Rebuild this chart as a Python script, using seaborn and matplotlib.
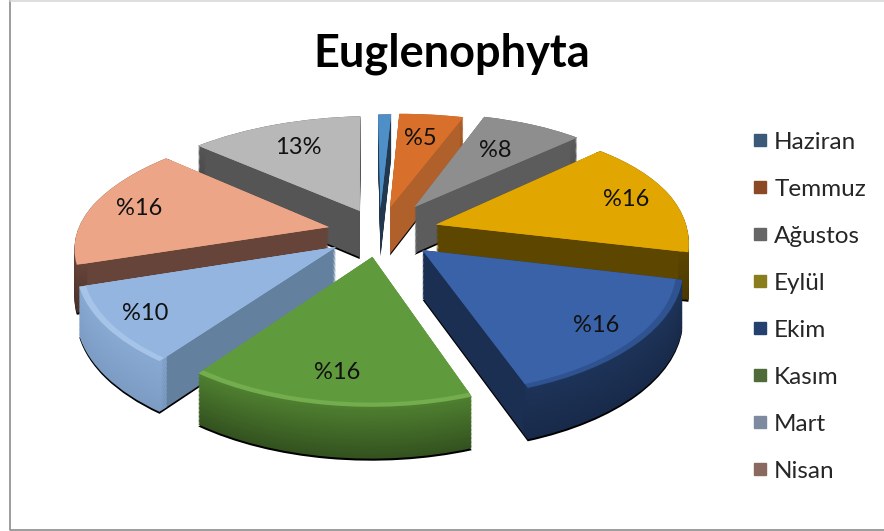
import numpy as np
import matplotlib
matplotlib.use("Agg")
import matplotlib.pyplot as plt
from matplotlib.colors import to_rgb
from matplotlib.lines import Line2D
from matplotlib.transforms import Transform
import seaborn as sns

# ---- data ----
months = ["Haziran", "Temmuz", "Ağustos", "Eylül", "Ekim", "Kasım", "Mart", "Nisan"]
values = [1, 5, 8, 16, 16, 16, 10, 16, 13]
value_labels = ["", "%5", "%8", "%16", "%16", "%16", "%10", "%16", "13%"]

# ---- style ----
top_colors = ["#4f8fc8", "#d8702c", "#8e8e8e", "#e2a600", "#3a62a8", "#5f9a3c", "#93b5df", "#eca586", "#b8b8b8"]
rim_colors = ["#4f8fc8", "#d8702c", "#8e8e8e", "#e2a600", "#2f5290", "#74ad4e", "#a6c4e8", "#eca586", "#b8b8b8"]
wall_colors = ["#22384f", "#b0602a", "#5c5c5c", "#5c4600", "#1b2f52", "#4a7a2c", "#64809f", "#66443a", "#555555"]
arc_high = ["#22384f", "#b0602a", "#5c5c5c", "#5c4600", "#1d3358", "#4f8030", "#88a9d2", "#66443a", "#555555"]
arc_low = ["#101820", "#8a4a20", "#4a4a4a", "#4a3800", "#182a4a", "#33521f", "#7c9cc4", "#4a3028", "#444444"]
legend_colors = ["#3b5a78", "#8b4a25", "#666666", "#8a7d1e", "#24406e", "#4f6b3a", "#7d8aa0", "#8a6a60"]
explode = [0.20, 0.21, 0.25, 0.23, 0.22, 0.20, 0.21, 0.21, 0.20]
draw_rank = [0, 1, 2, 5, 7, 8, 6, 4, 3]
label_frac = [0, 0.70, 0.65, 0.81, 0.82, 0.80, 0.84, 0.80, 0.70]
START = 94
LAYERS = 40

sns.set_theme(style="white")
plt.rcParams["font.family"] = ["Lato", "DejaVu Sans"]


class Tilt(Transform):
    """Lays the unit pie on a tilted plane; height z lowers it on the page."""
    input_dims = output_dims = 2
    has_inverse = False
    is_separable = False

    def __init__(self, z=0.0):
        super().__init__()
        self.z = z

    def transform_non_affine(self, values):
        a = np.asarray(values, dtype=float).reshape(-1, 2)
        u, v = a[:, 0], a[:, 1]
        sx = 252 - 36 * v
        x = 380 + u * sx + 12 * np.clip(v, 0, None)
        y = 232 - 122 * v + 20 * v ** 2 + self.z * (47 - 4 * v)
        return np.column_stack([x, y])


fig = plt.figure(figsize=(8.84, 5.31), dpi=100)
ax = fig.add_axes([0, 0, 1, 1])


def layer(z, colors, base, radius=1.0, width=None):
    props = dict(linewidth=0)
    if width:
        props["width"] = width
    wedges, _ = ax.pie(values, explode=explode, startangle=START, counterclock=False,
                       radius=radius, colors=colors, wedgeprops=props)
    for w, rank in zip(wedges, draw_rank):
        w.set_transform(Tilt(z) + ax.transData)
        w.set_zorder(rank * 100 + base)
        w.set_clip_on(False)


def mix(a, b, t):
    return tuple(np.array(to_rgb(a)) * (1 - t) + np.array(to_rgb(b)) * t)


layer(1.04, ["#000000"] * 9, 0)
for i in range(LAYERS):
    t = i / (LAYERS - 1)
    z = 1 - t
    layer(z, wall_colors, 1 + 2 * i, radius=0.985)
    layer(z, [mix(l, h, t) for l, h in zip(arc_low, arc_high)], 2 + 2 * i, width=0.04)
layer(0, rim_colors, 90)
layer(0, top_colors, 91, radius=0.975)

ax.set_aspect("auto")
ax.set_xlim(0, 884)
ax.set_ylim(531, 0)
ax.axis("off")

# value labels sit on the slice they describe
fr = np.array(values, dtype=float) / sum(values)
edges = np.concatenate([[0], np.cumsum(fr)]) * 360
mid = np.deg2rad(START - (edges[:-1] + edges[1:]) / 2)
tilt = Tilt(0)
for lab, m, e, f in zip(value_labels, mid, explode, label_frac):
    if lab:
        r = e + f
        px = tilt.transform_non_affine(np.array([[r * np.cos(m), r * np.sin(m)]]))[0]
        ax.text(px[0], px[1], lab, ha="center", va="center", fontsize=17, color="#111111", zorder=2000)

ax.text(452, 54, "Euglenophyta", ha="center", va="center", fontsize=32.5, fontweight="bold",
        color="black", zorder=2000)

handles = [Line2D([], [], linestyle="none", marker="s", markersize=8.5, color=c) for c in legend_colors]
ax.legend(handles, months, loc="center left", bbox_to_anchor=(0.831, 0.422), frameon=False,
          fontsize=17.5, labelspacing=1.07, handletextpad=0.0, handlelength=1.13, borderpad=0)

ax.plot([9.5, 9.5, 884], [0, 530, 530], color="#8c8c8c", linewidth=1.2, zorder=2001)
ax.plot([9.5, 884], [0.5, 0.5], color="#d8d8d8", linewidth=1.2, zorder=2001)
ax.set_xlim(0, 884)
ax.set_ylim(531, 0)

fig.savefig("out.png", dpi=100, facecolor="white")
